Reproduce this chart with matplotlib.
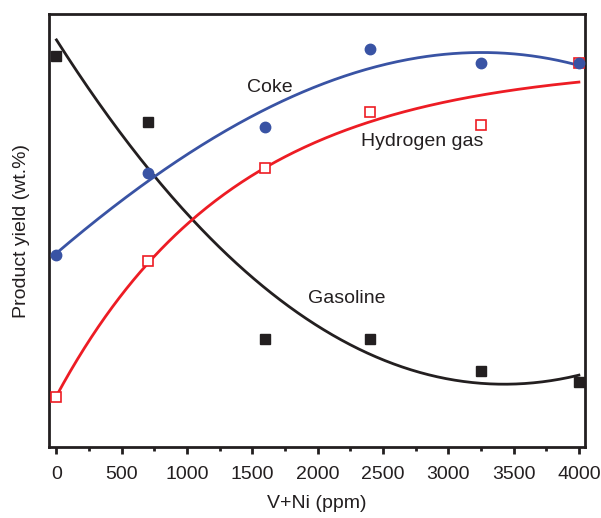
import numpy as np
import matplotlib
matplotlib.use("Agg")
import matplotlib.pyplot as plt
from matplotlib.ticker import MultipleLocator

plt.rcParams['font.family'] = ['Liberation Sans', 'DejaVu Sans']

# V+Ni content (ppm)
metals = [0, 700, 1600, 2400, 3250, 4000]

# product yields (arbitrary wt.% scale, no y ticks in the original)
gasoline = [90.3, 75.1, 24.9, 24.9, 17.6, 15.0]
coke = [44.3, 63.3, 73.9, 91.9, 88.7, 88.7]
hydrogen = [11.5, 43.0, 64.4, 77.4, 74.4, 88.7]

black = '#231f20'
blue = '#3953a4'
red = '#ed1c24'


def exp_rise_fit(x, y):
    # y = a - b*exp(-x/t), pick t by least squares on a grid
    x = np.asarray(x, float)
    y = np.asarray(y, float)
    best = None
    for t in np.linspace(300, 6000, 2000):
        A = np.column_stack([np.ones_like(x), -np.exp(-x / t)])
        coef, *_ = np.linalg.lstsq(A, y, rcond=None)
        err = np.sum((A @ coef - y) ** 2)
        if best is None or err < best[0]:
            best = (err, coef, t)
    _, (a, b), t = best
    return lambda v: a - b * np.exp(-v / t)


fig, ax = plt.subplots(figsize=(6.01, 5.18), dpi=100)
fig.subplots_adjust(left=0.082, right=0.973, top=0.973, bottom=0.137)

xs = np.linspace(0, 4000, 300)
for ys, col in [(gasoline, black), (coke, blue)]:
    p = np.polyfit(metals, ys, 3)
    ax.plot(xs, np.polyval(p, xs), color=col, lw=2, zorder=2)
h_fit = exp_rise_fit(metals, hydrogen)
ax.plot(xs, h_fit(xs), color=red, lw=2, zorder=2)

ax.plot(metals, gasoline, 's', color=black, ms=7, zorder=4, clip_on=False)
ax.plot(metals, hydrogen, 's', mfc='white', mec=red, mew=1.2, ms=6.5, zorder=3, clip_on=False)
ax.plot(metals, coke, 'o', color=blue, ms=7.5, zorder=4, clip_on=False)

ax.text(1630, 83.0, 'Coke', fontsize=14, color='#231f20', ha='center', va='center')
ax.text(2800, 70.5, 'Hydrogen gas', fontsize=14, color='#231f20', ha='center', va='center')
ax.text(2220, 34.3, 'Gasoline', fontsize=14, color='#231f20', ha='center', va='center')

ax.set_xlim(-55, 4045)
ax.set_ylim(0, 100)
ax.xaxis.set_major_locator(MultipleLocator(500))
ax.xaxis.set_minor_locator(MultipleLocator(250))
ax.set_yticks([])
ax.tick_params(axis='x', which='major', length=5, width=2, pad=9, labelsize=14, direction='out', color='#231f20', labelcolor='#231f20')
ax.tick_params(axis='x', which='minor', length=3, width=2, direction='out', color='#231f20')
for s in ax.spines.values():
    s.set_linewidth(2)
    s.set_color('#231f20')

ax.set_xlabel('V+Ni (ppm)', fontsize=14, color='#231f20', labelpad=8)
ax.set_ylabel('Product yield (wt.%)', fontsize=14, color='#231f20', labelpad=14)

fig.savefig('out.png', dpi=100)
